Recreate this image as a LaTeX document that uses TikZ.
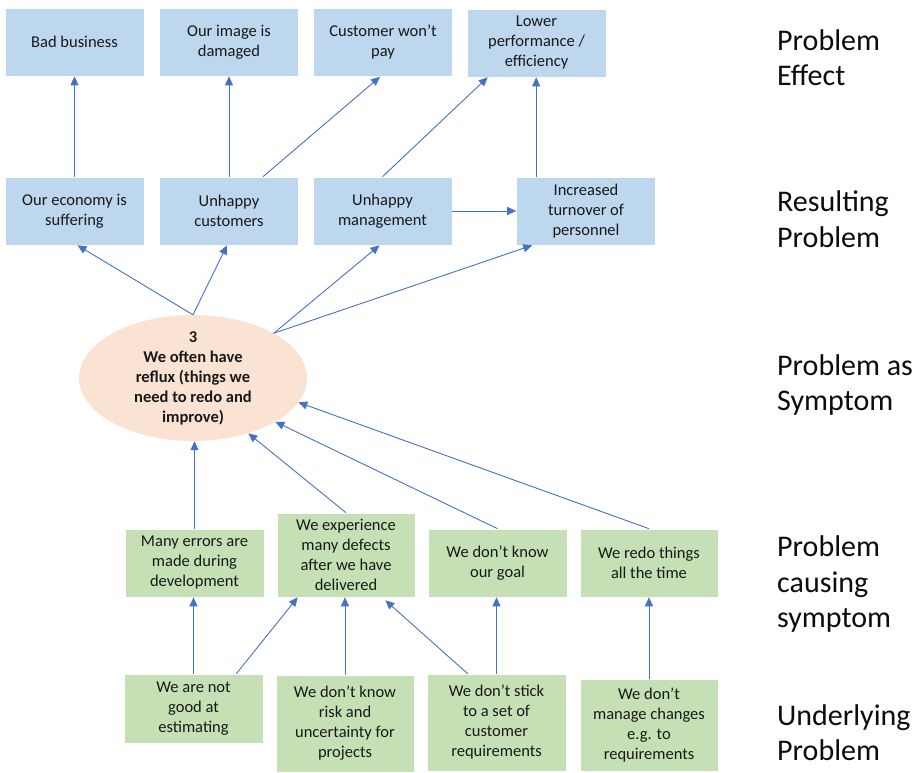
\documentclass[tikz,border=0pt]{standalone}
\usepackage{fontspec}
\setmainfont{Carlito}
\usetikzlibrary{arrows.meta,shapes.geometric,calc}
\definecolor{effectblue}{HTML}{BDD7EE}
\definecolor{causegreen}{HTML}{C5E0B4}
\definecolor{symptompeach}{HTML}{FBE3D4}
\definecolor{linkblue}{HTML}{4472C4}
\begin{document}
\begin{tikzpicture}[x=1pt,y=-1pt,
  box/.style={rectangle, draw=white, line width=0.6pt, inner sep=0pt, align=center,
    font=\fontsize{16.5}{20}\selectfont, text=black!90},
  effect/.style={box, fill=effectblue, minimum width=139pt, minimum height=68pt},
  cause/.style={box, fill=causegreen, minimum width=139pt},
  level/.style={anchor=west, align=left, inner sep=0pt, font=\fontsize{30}{35.5}\selectfont, text=black!95},
  link/.style={draw=linkblue, line width=0.9pt, -{Triangle[length=9pt,width=8pt]}}]

\useasboundingbox (0,0) rectangle (919,772);
\fill[white] (0,0) rectangle (919,772);

% problem effects
\node[effect] (bad)  at (74.5,42)  {Bad business};
\node[effect] (img)  at (229,42)   {Our image is\\damaged};
\node[effect] (pay)  at (383,42.5) {Customer won’t\\pay};
\node[effect] (perf) at (536.5,43) {Lower\\performance /\\efficiency};

% resulting problems
\node[effect] (eco)  at (74.5,211)  {Our economy is\\suffering};
\node[effect] (cust) at (229,211)   {Unhappy\\customers};
\node[effect] (mgmt) at (382.5,211) {Unhappy\\management};
\node[effect] (turn) at (586,211)   {Increased\\turnover of\\personnel};

% the central symptom
\node[ellipse, fill=symptompeach, minimum width=228pt, minimum height=126pt, inner sep=0pt] (sym) at (193,378) {};
\node[align=center, inner sep=0pt, font=\bfseries\fontsize{16.5}{20}\selectfont, text=black!90] (symtext) at (sym.center)
  {3\\We often have\\reflux (things we\\need to redo and\\improve)};

% problem causing symptoms
\node[cause, minimum height=68pt] (err)  at (194.5,563) {Many errors are\\made during\\development};
\node[cause, minimum height=84pt, minimum width=138pt] (exp) at (346,555) {We experience\\many defects\\after we have\\delivered};
\node[cause, minimum height=68pt] (goal) at (497.5,563) {We don’t know\\our goal};
\node[cause, minimum height=68pt, minimum width=138pt] (redo) at (649,563) {We redo things\\all the time};

% underlying problems
\node[cause, minimum height=69pt] (est) at (193.5,708.5) {We are not\\good at\\estimating};
\node[cause, minimum height=97pt, minimum width=138pt] (risk) at (345,723.5) {We don’t know\\risk and\\uncertainty for\\projects};
\node[cause, minimum height=97pt] (stick) at (496.5,722.5) {We don’t stick\\to a set of\\customer\\requirements};
\node[cause, minimum height=92pt, minimum width=138pt] (chg) at (649,725) {We don’t\\manage changes\\e.g. to\\requirements};

% level captions
\node[level] (lvEffect)  at (777,57.5) {Problem\\Effect};
\node[level] (lvResult)  at (777,219)  {Resulting\\Problem};
\node[level] (lvSymptom) at (777,385)  {Problem as\\Symptom};
\node[level] (lvCause)   at (777,584)  {Problem\\causing\\symptom};
\node[level] (lvUnder)   at (777,732.5) {Underlying\\Problem};

% links between effects
\draw[link] (eco.north) -- (bad.south);
\draw[link] (cust.north) -- (img.south);
\draw[link] ($(cust.north)+(34,0)$) -- ($(pay.south)+(-3,0)$);
\draw[link] (mgmt.north) -- ($(perf.south west)+(21,0)$);
\coordinate (turnTop) at ($(turn.north west)+(20,0)$);
\draw[link] (turnTop) -- (turnTop |- perf.south);
\draw[link] (mgmt.east) -- (turn.west);

% symptom to resulting problems
\draw[link] (sym.north) -- ($(eco.south)+(3,0)$);
\draw[link] (sym.north) -- ($(cust.south)+(-2,0)$);
\draw[link] (sym.29) -- ($(mgmt.south)+(-3,0)$);
\draw[link] (sym.29) -- ($(turn.south west)+(16,0)$);

% causes to symptom
\draw[link] (err.north) -- (err.north |- sym.south);
\draw[link] (exp.north) -- (sym.-45);
\draw[link] (goal.north) -- (sym.-28.5);
\draw[link] (redo.north) -- (sym.-13);

% underlying problems to causes
\draw[link] (est.north) -- (est.north |- err.south);
\draw[link] ($(est.north east)+(-27,0)$) -- ($(exp.south west)+(21,0)$);
\draw[link] (risk.north) -- (risk.north |- exp.south);
\draw[link] ($(stick.north west)+(41,0)$) -- ($(exp.south east)+(-30,3)$);
\draw[link] (stick.north) -- (stick.north |- goal.south);
\draw[link] (chg.north) -- (chg.north |- redo.south);
\end{tikzpicture}
\end{document}
